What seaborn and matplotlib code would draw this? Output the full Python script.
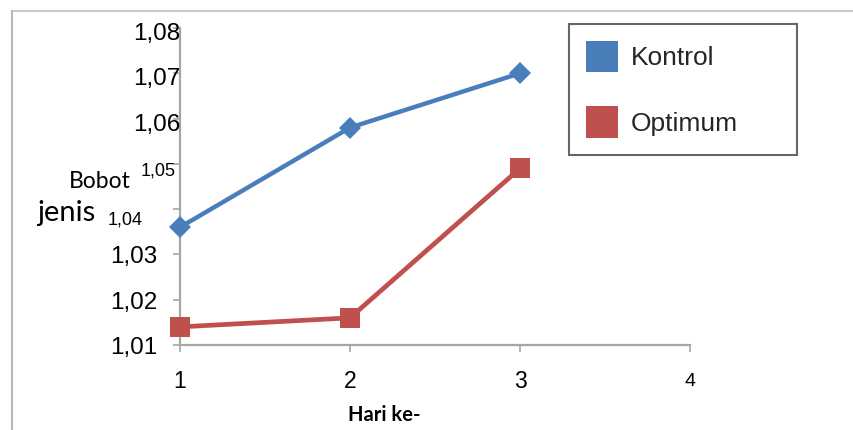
import matplotlib
matplotlib.use("Agg")
import matplotlib.pyplot as plt
import matplotlib.transforms as mtransforms
from matplotlib.lines import Line2D
from matplotlib.patches import Patch
import seaborn as sns
import pandas as pd

# Data
hari = [1, 2, 3]
kontrol = [1.036, 1.058, 1.070]
optimum = [1.014, 1.016, 1.049]
series_names = ["Kontrol", "Optimum"]
big_ytick_labels = {1.01: "1,01", 1.02: "1,02", 1.03: "1,03",
                    1.06: "1,06", 1.07: "1,07", 1.08: "1,08"}
small_ytick_labels = {1.04: "1,04", 1.05: "1,05"}
xtick_values = [1, 2, 3, 4]

df = pd.DataFrame({
    "hari": hari * 2,
    "bobot": kontrol + optimum,
    "seri": [series_names[0]] * 3 + [series_names[1]] * 3,
})

sns.set_theme(style="white")
plt.rcParams["font.family"] = ["Liberation Sans", "DejaVu Sans"]

W, H = 854, 430
fig = plt.figure(figsize=(W / 100, H / 100), dpi=100)
fig.patch.set_facecolor("white")


def fx(x):
    return x / W


def fy(y):
    return 1 - y / H


ax = fig.add_axes([fx(180), fy(345), (690 - 180) / W, (345 - 28) / H])

colors = {"Kontrol": "#4A7EBB", "Optimum": "#C0504D"}
sns.lineplot(data=df, x="hari", y="bobot", hue="seri", style="seri",
             markers={"Kontrol": "D", "Optimum": "s"}, dashes=False,
             palette=colors, ax=ax, legend=False, linewidth=3.2,
             markeredgewidth=0)
for ln in ax.lines:
    ln.set_clip_on(False)
    ln.set_zorder(5)
    if ln.get_marker() == "D":
        ln.set_markersize(11)
    else:
        ln.set_markersize(14)
        ln.set_linewidth(3.4)

ax.set_xlim(1, 4)
ax.set_ylim(1.01, 1.08)
ax.set_xlabel("")
ax.set_ylabel("")

# Spines
for side in ["top", "right"]:
    ax.spines[side].set_visible(False)
for side in ["left", "bottom"]:
    ax.spines[side].set_color("#A6A6A6")
    ax.spines[side].set_linewidth(1.6)

# Ticks (marks only, labels drawn as text below)
ax.set_yticks([1.01, 1.02, 1.03, 1.04, 1.05, 1.06, 1.07, 1.08])
ax.set_yticklabels([])
ax.set_xticks(xtick_values)
ax.set_xticklabels([])
ax.tick_params(axis="both", direction="out", length=5, width=1.2,
               color="#A6A6A6", left=True, bottom=True)

ytrans = ax.get_yaxis_transform()
for v, lab in big_ytick_labels.items():
    upper = v >= 1.06
    xa = 0.0 if upper else -23 / 510
    dy = -6 if upper else -3
    off = mtransforms.offset_copy(ytrans, fig=fig, x=0, y=dy, units="dots")
    ax.text(xa, v, lab, transform=off, ha="right", va="center",
            fontsize=17.5, color="black", clip_on=False)

# Small y labels
fig.text(fx(158), fy(171), small_ytick_labels[1.05], ha="center", va="center",
         fontsize=13, color="black")
fig.text(fx(125), fy(220), small_ytick_labels[1.04], ha="center", va="center",
         fontsize=13, color="black")

# X tick labels
xtrans = ax.get_xaxis_transform()
for v in xtick_values:
    fs = 16.5 if v < 4 else 14
    off = mtransforms.offset_copy(xtrans, fig=fig, x=0, y=-37, units="dots")
    ax.text(v, 0, str(v), transform=off, ha="center", va="center",
            fontsize=fs, color="black", clip_on=False)

# Axis titles
fig.text(fx(100), fy(181), "Bobot", ha="center", va="center",
         fontsize=16.5, family=["Lato", "DejaVu Sans"], color="black")
fig.text(fx(66), fy(213), "jenis", ha="center", va="center",
         fontsize=21, family=["Lato", "DejaVu Sans"], color="black")
fig.text(fx(384), fy(415), "Hari ke-", ha="center", va="center",
         fontsize=14.5, fontweight="bold", family=["Lato", "DejaVu Sans"],
         color="black")

# Legend
handles = [Patch(facecolor=colors[n], edgecolor="none", label=n)
           for n in series_names]
leg = fig.legend(handles=handles, loc="upper left",
                 bbox_to_anchor=(fx(569), fy(28), (797 - 569) / W, 0.01),
                 mode="expand", fontsize=19, handlelength=1.2,
                 handleheight=1.45, handletextpad=0.5, labelspacing=1.3,
                 borderpad=0.65, borderaxespad=0, frameon=True,
                 fancybox=False)
leg.get_frame().set_edgecolor("#404040")
leg.get_frame().set_linewidth(1.5)

# Outer frame lines (top and left)
fig.add_artist(Line2D([fx(12), 1.0], [fy(10.5), fy(10.5)],
                      color="#C8C8C8", linewidth=1.5))
fig.add_artist(Line2D([fx(12), fx(12)], [fy(10.5), 0.0],
                      color="#B8B8B8", linewidth=1.5))

fig.savefig("out.png", dpi=100)
